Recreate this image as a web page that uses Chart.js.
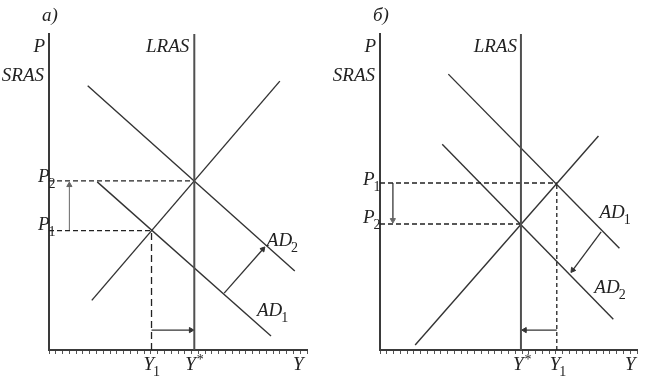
<!DOCTYPE html>
<html>
<head>
<meta charset="utf-8">
<script src="https://cdn.jsdelivr.net/npm/chart.js@4/dist/chart.umd.min.js"></script>
<style>
  body { margin: 0; background: #fff; }
  canvas { position: absolute; top: 0; }
</style>
</head>
<body>
<canvas id="chartA" width="323" height="382" style="left:0"></canvas>
<canvas id="chartB" width="324" height="382" style="left:323px"></canvas>
<script>
// Y runs 0..38 (one axis tick per unit), P runs 0..100
const yTickMax = 38;
const pMax = 100;

// panel а) - demand goes up, output Y1 -> Y*
const aYstar = 21.4, aY1 = 15.1;
const aP1 = 37.8, aP2 = 53.5;
const aSRAS = [[6.3, 15.7], [34.0, 85.1]];
const aAD1 = [[7.1, 53.2], [32.7, 4.4]];
const aAD2 = [[5.7, 83.6], [36.2, 25.0]];
const aShiftAD = [[25.8, 18.0], [31.5, 31.9]];
const aArrowP = [[3.0, 37.8], [3.0, 52.2]];
const aArrowY = [[15.1, 6.3], [20.9, 6.3]];

// panel б) - demand goes down, output Y1 -> Y*
const bYstar = 20.84, bY1 = 26.14;
const bP1 = 52.85, bP2 = 39.87;
const bSRAS = [[5.2, 1.6], [32.3, 67.7]];
const bAD1 = [[10.1, 87.3], [35.4, 32.2]];
const bAD2 = [[9.2, 65.1], [34.5, 9.7]];
const bShiftAD = [[32.7, 37.4], [28.5, 25.3]];
const bArrowP = [[1.9, 52.85], [1.9, 41.1]];
const bArrowY = [[26.14, 6.3], [21.4, 6.3]];

const MAIN_FONT = 'italic 19px "Liberation Serif", "DejaVu Serif", serif';
const SUB_FONT = '14px "Liberation Serif", "DejaVu Serif", serif';

function pts(arr) {
    return arr.map(p => ({x: p[0], y: p[1]}));
}

function line(data, color, width, dash) {
    return {
        data: data,
        showLine: true,
        borderColor: color,
        borderWidth: width,
        borderDash: dash || [],
        pointRadius: 0,
        fill: false
    };
}

// arrow = line with a triangle point at the end, turned along the line
function headRotation(ctx) {
    const d = ctx.dataset.data;
    const sx = ctx.chart.scales.x, sy = ctx.chart.scales.y;
    const dx = sx.getPixelForValue(d[1].x) - sx.getPixelForValue(d[0].x);
    const dy = sy.getPixelForValue(d[1].y) - sy.getPixelForValue(d[0].y);
    return Math.atan2(dx, -dy) * 180 / Math.PI;
}

function arrow(data, color, width) {
    const ds = line(data, color, width);
    ds.pointRadius = [0, 3];
    ds.pointStyle = 'triangle';
    ds.pointBackgroundColor = color;
    ds.pointBorderColor = color;
    ds.pointBorderWidth = 1;
    ds.pointRotation = headRotation;
    return ds;
}

const textPlugin = {
    id: 'econLabels',
    afterDraw(chart, args, opts) {
        const {ctx, chartArea, scales} = chart;
        ctx.save();
        ctx.fillStyle = '#222';
        ctx.textBaseline = 'alphabetic';
        for (const l of opts.items) {
            const px = l.x === 'left' ? chartArea.left : l.x === 'right' ? chartArea.right : scales.x.getPixelForValue(l.x);
            const py = l.y === 'top' ? chartArea.top : l.y === 'bottom' ? chartArea.bottom : scales.y.getPixelForValue(l.y);
            ctx.font = MAIN_FONT;
            const w = ctx.measureText(l.text).width;
            ctx.font = SUB_FONT;
            const ws = l.sub ? ctx.measureText(l.sub).width : (l.sup ? ctx.measureText(l.sup).width : 0);
            let x0 = px + l.dx;
            if (l.align === 'right') x0 -= w + ws;
            ctx.font = MAIN_FONT;
            ctx.fillText(l.text, x0, py + l.dy);
            ctx.font = SUB_FONT;
            if (l.sub) ctx.fillText(l.sub, x0 + w - 1, py + l.dy + 6);
            if (l.sup) ctx.fillText(l.sup, x0 + w + 1, py + l.dy - 6);
        }
        ctx.restore();
    }
};

function makeChart(id, datasets, labels, yAxisWidth, padRight) {
    return new Chart(document.getElementById(id), {
        type: 'scatter',
        data: { datasets: datasets },
        options: {
            responsive: false,
            animation: false,
            devicePixelRatio: 1,
            layout: { padding: { top: 34, right: padRight, left: 0, bottom: 0 } },
            scales: {
                x: {
                    type: 'linear',
                    min: 0,
                    max: yTickMax,
                    ticks: { display: false, stepSize: 1, maxTicksLimit: 100 },
                    grid: { drawOnChartArea: false, drawTicks: true, tickLength: 4, color: '#555', lineWidth: 1 },
                    border: { display: true, color: '#3a3a3a', width: 2 },
                    afterFit: s => { s.height = 32; }
                },
                y: {
                    type: 'linear',
                    min: 0,
                    max: pMax,
                    ticks: { display: false },
                    grid: { display: false },
                    border: { display: true, color: '#3a3a3a', width: 2 },
                    afterFit: s => { s.width = yAxisWidth; }
                }
            },
            plugins: {
                legend: { display: false },
                tooltip: { enabled: false },
                econLabels: { items: labels }
            }
        },
        plugins: [textPlugin]
    });
}

// panel а)
makeChart('chartA', [
    line(pts([[aYstar, 0], [aYstar, pMax]]), '#505050', 2),
    line(pts([[0, aP2], [aYstar, aP2]]), '#222', 1.3, [5, 3]),
    line(pts([[0, aP1], [aY1, aP1]]), '#222', 1.3, [5, 3]),
    line(pts([[aY1, 0], [aY1, aP1]]), '#222', 1.3, [7, 4]),
    line(pts(aSRAS), '#333', 1.4),
    line(pts(aAD1), '#333', 1.4),
    line(pts(aAD2), '#333', 1.4),
    arrow(pts(aShiftAD), '#333', 1.3),
    arrow(pts(aArrowP), '#666', 1),
    arrow(pts(aArrowY), '#333', 1.4)
], [
    {text: 'а)', x: 'left', y: 'top', dx: -7, dy: -13},
    {text: 'P', x: 'left', y: 'top', dx: -4, dy: 18, align: 'right'},
    {text: 'SRAS', x: 'left', y: 'top', dx: -5, dy: 47, align: 'right'},
    {text: 'LRAS', x: aYstar, y: 'top', dx: -5, dy: 18, align: 'right'},
    {text: 'P', sub: '2', x: 'left', y: aP2, dx: -11, dy: 1},
    {text: 'P', sub: '1', x: 'left', y: aP1, dx: -11, dy: -1},
    {text: 'AD', sub: '2', x: aAD2[1][0], y: aAD2[1][1], dx: -28, dy: -25},
    {text: 'AD', sub: '1', x: aAD1[1][0], y: aAD1[1][1], dx: -14, dy: -20},
    {text: 'Y', sub: '1', x: aY1, y: 'bottom', dx: -8, dy: 20},
    {text: 'Y', sup: '*', x: aYstar, y: 'bottom', dx: -9, dy: 20},
    {text: 'Y', x: 'right', y: 'bottom', dx: -14, dy: 20}
], 49, 16);

// panel б)
makeChart('chartB', [
    line(pts([[bYstar, 0], [bYstar, pMax]]), '#505050', 2),
    line(pts([[0, bP1], [bY1, bP1]]), '#222', 1.3, [5, 3]),
    line(pts([[0, bP2], [bYstar, bP2]]), '#222', 1.3, [5, 3]),
    line(pts([[bY1, 0], [bY1, bP1]]), '#222', 1.3, [4, 3]),
    line(pts(bSRAS), '#333', 1.4),
    line(pts(bAD1), '#333', 1.4),
    line(pts(bAD2), '#333', 1.4),
    arrow(pts(bShiftAD), '#333', 1.3),
    arrow(pts(bArrowP), '#666', 1),
    arrow(pts(bArrowY), '#333', 1.3)
], [
    {text: 'б)', x: 'left', y: 'top', dx: -7, dy: -13},
    {text: 'P', x: 'left', y: 'top', dx: -4, dy: 18, align: 'right'},
    {text: 'SRAS', x: 'left', y: 'top', dx: -5, dy: 47, align: 'right'},
    {text: 'LRAS', x: bYstar, y: 'top', dx: -4, dy: 18, align: 'right'},
    {text: 'P', sub: '1', x: 'left', y: bP1, dx: -17, dy: 2},
    {text: 'P', sub: '2', x: 'left', y: bP2, dx: -17, dy: -1},
    {text: 'AD', sub: '1', x: bAD1[1][0], y: bAD1[1][1], dx: -20, dy: -30},
    {text: 'AD', sub: '2', x: bAD2[1][0], y: bAD2[1][1], dx: -19, dy: -26},
    {text: 'Y', sup: '*', x: bYstar, y: 'bottom', dx: -8, dy: 20},
    {text: 'Y', sub: '1', x: bY1, y: 'bottom', dx: -7, dy: 20},
    {text: 'Y', x: 'right', y: 'bottom', dx: -12, dy: 20}
], 57, 10);
</script>
</body>
</html>
